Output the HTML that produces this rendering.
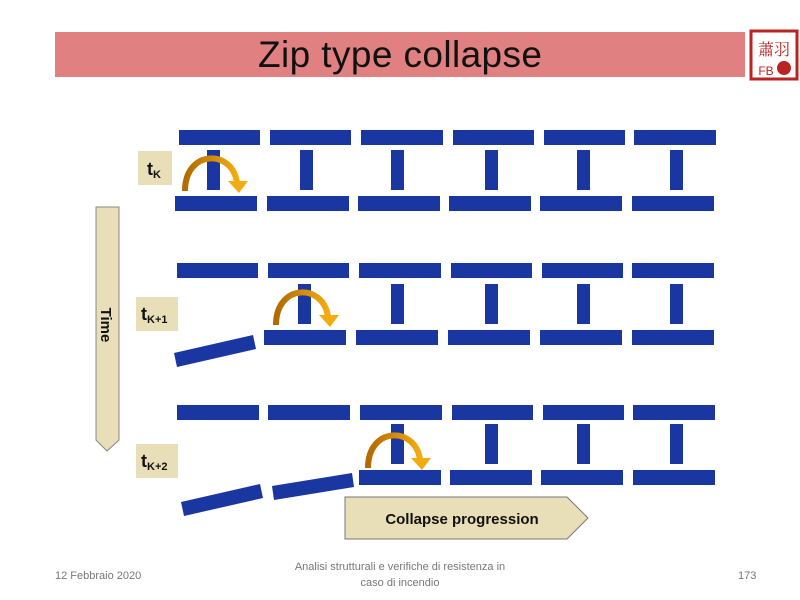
<!DOCTYPE html>
<html><head><meta charset="utf-8"><style>
html,body{margin:0;padding:0;background:#fff;width:800px;height:600px;overflow:hidden}
svg{display:block}
</style></head><body>
<svg width="800" height="600" viewBox="0 0 800 600" xmlns="http://www.w3.org/2000/svg">
<defs>
<linearGradient id="og" x1="0" x2="1" y1="0" y2="0"><stop offset="0" stop-color="#b06a00"/><stop offset="1" stop-color="#f2ac10"/></linearGradient>
<g id="arc">
<path d="M0,0 C0,-42 48,-42 52,-8" fill="none" stroke="url(#og)" stroke-width="6"/>
<polygon points="43,-10 63,-10 54,2" fill="#f2ac10"/>
</g>
</defs>
<rect x="55" y="32" width="690" height="45" fill="#e08080"/>
<text x="400" y="67" font-family="Liberation Sans, sans-serif" font-size="37" text-anchor="middle" fill="#111" textLength="284">Zip type collapse</text>
<rect x="751" y="31" width="46" height="48" fill="#fff" stroke="#b22" stroke-width="3"/>
<text x="774" y="55" font-family="Noto Serif CJK SC, serif" font-size="16" text-anchor="middle" fill="#b22">蕭羽</text>
<circle cx="784" cy="68" r="7" fill="#b22"/>
<text x="766" y="75" font-family="Liberation Sans, sans-serif" font-size="12" text-anchor="middle" fill="#b22">FB</text>

<g fill="#1a36a0">
<rect x="179" y="130" width="81" height="15"/><rect x="270" y="130" width="81" height="15"/><rect x="361" y="130" width="82" height="15"/><rect x="453" y="130" width="81" height="15"/><rect x="544" y="130" width="81" height="15"/><rect x="634" y="130" width="82" height="15"/>
<rect x="207" y="150" width="13" height="40"/><rect x="300" y="150" width="13" height="40"/><rect x="391" y="150" width="13" height="40"/><rect x="485" y="150" width="13" height="40"/><rect x="577" y="150" width="13" height="40"/><rect x="670" y="150" width="13" height="40"/>
<rect x="175" y="196" width="82" height="15"/><rect x="267" y="196" width="82" height="15"/><rect x="358" y="196" width="82" height="15"/><rect x="449" y="196" width="82" height="15"/><rect x="540" y="196" width="82" height="15"/><rect x="632" y="196" width="82" height="15"/>
<rect x="177" y="263" width="81" height="15"/><rect x="268" y="263" width="81" height="15"/><rect x="359" y="263" width="82" height="15"/><rect x="451" y="263" width="81" height="15"/><rect x="542" y="263" width="81" height="15"/><rect x="632" y="263" width="82" height="15"/>
<rect x="298" y="284" width="13" height="40"/><rect x="391" y="284" width="13" height="40"/><rect x="485" y="284" width="13" height="40"/><rect x="577" y="284" width="13" height="40"/><rect x="670" y="284" width="13" height="40"/>
<rect x="264" y="330" width="82" height="15"/><rect x="356" y="330" width="82" height="15"/><rect x="448" y="330" width="82" height="15"/><rect x="540" y="330" width="82" height="15"/><rect x="632" y="330" width="82" height="15"/>
<polygon points="174,353 253,335 256,349 177,367"/>
<rect x="177" y="405" width="82" height="15"/><rect x="268" y="405" width="82" height="15"/><rect x="360" y="405" width="82" height="15"/><rect x="452" y="405" width="81" height="15"/><rect x="543" y="405" width="81" height="15"/><rect x="633" y="405" width="82" height="15"/>
<rect x="391" y="424" width="13" height="40"/><rect x="485" y="424" width="13" height="40"/><rect x="577" y="424" width="13" height="40"/><rect x="670" y="424" width="13" height="40"/>
<rect x="359" y="470" width="82" height="15"/><rect x="450" y="470" width="82" height="15"/><rect x="541" y="470" width="82" height="15"/><rect x="633" y="470" width="82" height="15"/>
<polygon points="181,502 260,484 263,498 184,516"/>
<polygon points="272,486 352,473 354,487 274,500"/>
</g>
<use href="#arc" x="185" y="191"/>
<use href="#arc" x="276" y="325"/>
<use href="#arc" x="368" y="468"/>

<g font-family="Liberation Sans, sans-serif" font-weight="bold" fill="#111">
<rect x="138" y="151" width="34" height="34" fill="#e8dfb8"/>
<text x="147" y="175" font-size="18">t<tspan font-size="11" dy="3">K</tspan></text>
<rect x="136" y="297" width="42" height="34" fill="#e8dfb8"/>
<text x="141" y="320" font-size="18">t<tspan font-size="11" dy="3">K+1</tspan></text>
<rect x="136" y="444" width="42" height="34" fill="#e8dfb8"/>
<text x="141" y="467" font-size="18">t<tspan font-size="11" dy="3">K+2</tspan></text>
<polygon points="96,207 119,207 119,440 107,451 96,440" fill="#e8dfb8" stroke="#888" stroke-width="1"/>
<text x="0" y="0" font-size="15" text-anchor="middle" transform="translate(101,325) rotate(90)">Time</text>
<polygon points="345,497 567,497 588,518 567,539 345,539" fill="#e8dfb8" stroke="#777" stroke-width="1"/>
<text x="462" y="524" font-size="15" text-anchor="middle">Collapse progression</text>
</g>
<g font-family="Liberation Sans, sans-serif" font-size="11" fill="#777">
<text x="55" y="579">12 Febbraio 2020</text>
<text x="400" y="570" text-anchor="middle">Analisi strutturali e verifiche di resistenza in</text>
<text x="400" y="586" text-anchor="middle">caso di incendio</text>
<text x="738" y="579">173</text>
</g>
</svg>
</body></html>
